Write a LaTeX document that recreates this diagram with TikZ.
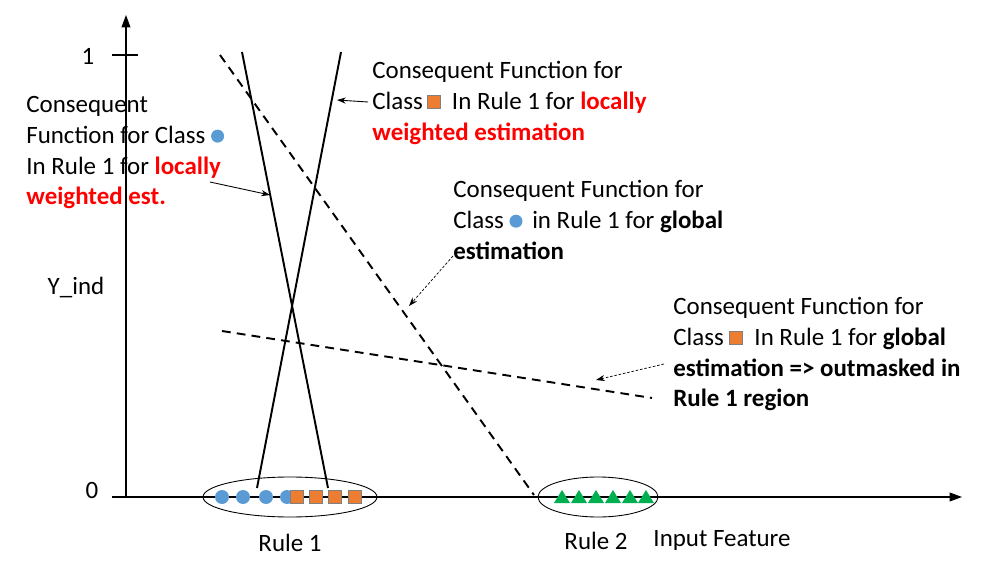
\documentclass[tikz,border=0pt]{standalone}
\usepackage{xcolor}
\usepackage{fontspec}
\setmainfont{Carlito}
\usetikzlibrary{arrows.meta}

\definecolor{dotblue}{HTML}{5B9BD5}
\definecolor{boxorange}{HTML}{ED7D31}
\definecolor{trigreen}{HTML}{00B050}
\newcommand{\bluedot}{\tikz[x=1cm, y=1cm, baseline=-0.6ex]\fill[dotblue] (0,0) circle (0.13);}
\newcommand{\orangebox}{\tikz[x=1cm, y=1cm, baseline=-0.6ex]\filldraw[fill=boxorange, draw=gray, line width=0.4pt] (-0.13,-0.13) rectangle (0.13,0.13);}
\newcommand{\hl}[1]{\textbf{\color{red}#1}}

\begin{document}
\begin{tikzpicture}[x=0.02cm, y=-0.02cm]
        % Define styles
        \tikzset{
            textblock/.style={anchor=north west, inner sep=0pt, align=left, font=\fontsize{14.2}{17.5}\selectfont},
            txt/.style={anchor=center, inner sep=0pt, font=\fontsize{14.2}{17}\selectfont},
            axis/.style={-{Triangle[length=7pt,width=5pt]}, line width=0.6pt},
            func/.style={line width=1.1pt},
            globalfunc/.style={line width=1.1pt, dash pattern=on 5pt off 3.5pt},
            pointer/.style={-{Stealth[length=5pt,width=3.5pt]}, line width=0.5pt},
            dotpointer/.style={-{Stealth[length=5pt,width=3.5pt]}, line width=0.4pt, dash pattern=on 1.5pt off 1pt},
            region/.style={draw, line width=0.5pt},
            sampleA/.style={fill=dotblue},
            sampleB/.style={fill=boxorange, draw=gray, line width=0.4pt},
            sampleC/.style={fill=trigreen}
        }
        \useasboundingbox (0,0) rectangle (988,571);

        % Axes
        \coordinate (origin) at (126,497);
        \coordinate (xstart) at (112,497);
        \coordinate (xend) at (962,497);
        \coordinate (ytop) at (126,15);
        \coordinate (tickl) at (112,55);
        \coordinate (tickr) at (138,55);
        \draw[axis] (xstart) -- (xend);
        \draw[axis] (origin) -- (ytop);
        \draw[line width=0.6pt] (tickl) -- (tickr);
        \node[txt] (one) at (88,56) {1};
        \node[txt] (zero) at (92,490) {0};
        \node[txt] (yind) at (76,288) {Y\_ind};

        % Rule regions
        \draw[region] (290,497) ellipse (87 and 20);
        \draw[region] (598,497) ellipse (60 and 20);
        \node[txt] (rule1) at (290,543) {Rule 1};
        \node[txt] (rule2) at (596,541) {Rule 2};
        \node[txt] (feature) at (722,541) {Input Feature};

        % Samples
        \foreach \x in {222,243,266,287}
            \fill[sampleA] (\x,497) circle (7);
        \foreach \x in {297,316,335,355}
            \filldraw[sampleB] (\x-6.5,490.5) rectangle (\x+6.5,503.5);
        \foreach \x in {562,579,596,613,630,646}
            \fill[sampleC] (\x-8,503) -- (\x+8,503) -- (\x,490) -- cycle;

        % Consequent functions
        \coordinate (fa1) at (242,52);
        \coordinate (fa2) at (328,488);
        \coordinate (fb1) at (341,52);
        \coordinate (fb2) at (257,488);
        \coordinate (ga1) at (220,55);
        \coordinate (ga2) at (534,495);
        \coordinate (gb1) at (222,331);
        \coordinate (gb2) at (652,398);
        \draw[func] (fa1) -- (fa2);
        \draw[func] (fb1) -- (fb2);
        \draw[globalfunc] (ga1) -- (ga2);
        \draw[globalfunc] (gb1) -- (gb2);

        % Labels
        \node[textblock] (labA) at (26,96) {Consequent\\Function for Class \bluedot\\In Rule 1 for \hl{locally}\\\hl{weighted est.}};
        \node[textblock] (labB) at (372,61) {Consequent Function for\\Class\,\orangebox\ \ In Rule 1 for \hl{locally}\\\hl{weighted estimation}};
        \node[textblock] (labC) at (453,180) {Consequent Function for\\Class \bluedot\ \,in Rule 1 for \textbf{global}\\\textbf{estimation}};
        \node[textblock] (labD) at (673,297) {Consequent Function for\\Class \orangebox\ \ In Rule 1 for \textbf{global}\\\textbf{estimation => outmasked in}\\\textbf{Rule 1 region}};

        % Pointers
        \coordinate (pa1) at (210,182);
        \coordinate (pa2) at (270,195);
        \coordinate (pb1) at (368,102);
        \coordinate (pb2) at (337,100);
        \coordinate (pc1) at (453,256);
        \coordinate (pc2) at (409,306);
        \coordinate (pd1) at (664,364);
        \coordinate (pd2) at (596,380);
        \draw[pointer] (pa1) -- (pa2);
        \draw[pointer] (pb1) -- (pb2);
        \draw[dotpointer] (pc1) -- (pc2);
        \draw[dotpointer] (pd1) -- (pd2);
\end{tikzpicture}
\end{document}
